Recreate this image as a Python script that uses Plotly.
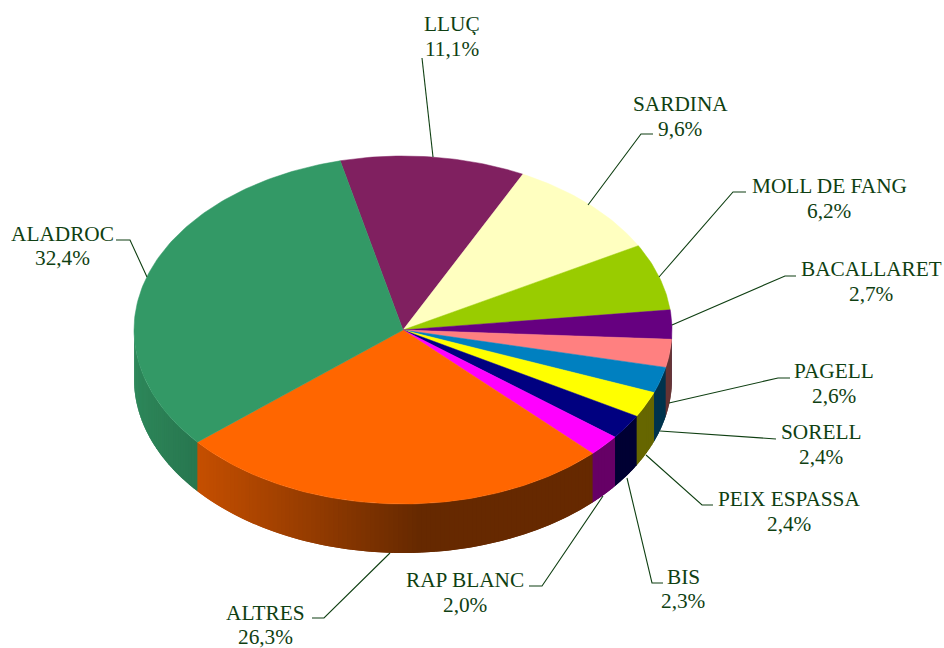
import math
import plotly.graph_objects as go

categories = ["LLUÇ", "SARDINA", "MOLL DE FANG", "BACALLARET", "PAGELL", "SORELL",
              "PEIX ESPASSA", "BIS", "RAP BLANC", "ALTRES", "ALADROC"]
values = [11.1, 9.6, 6.2, 2.7, 2.6, 2.4, 2.4, 2.3, 2.0, 26.3, 32.4]
value_labels = ["11,1%", "9,6%", "6,2%", "2,7%", "2,6%", "2,4%", "2,4%", "2,3%", "2,0%", "26,3%", "32,4%"]
colors = ["#802060", "#FFFFC0", "#99CC00", "#660080", "#FF8080", "#0080C0",
          "#FFFF00", "#000080", "#FF00FF", "#FF6600", "#339966"]

# projection of the tilted pie (layout, in page pixels)
CX, CY, RX, RY, DEPTH = 403, 330, 269, 174, 49
START = -13.5
TEXT = "#0F3F12"
FONT = "Liberation Serif"
FS = 21.3
LINE_GAP = 12.3

label_pos = [(452, 36), (680, 116), (829, 198), (871, 281), (834, 383), (821, 444),
             (789, 511), (683, 588.5), (465, 592), (265, 624.5), (62, 245.5)]
leaders = [
    [(433, 157), (422, 58)],
    [(588, 205), (641, 134), (653, 134)],
    [(659, 277), (733, 192), (746, 192)],
    [(672, 325), (785, 276), (796, 276)],
    [(669, 403), (778, 378), (790, 378)],
    [(660, 431), (776, 439)],
    [(646, 455), (702, 505), (713, 505)],
    [(627, 478), (652, 583), (663, 583)],
    [(603, 496), (542, 586), (529, 586)],
    [(390, 553), (324, 618), (312, 618)],
    [(147, 277), (130, 240), (116, 240)],
]


def pt(t):
    a = math.radians(t)
    return CX + RX * math.sin(a), CY - RY * math.cos(a)


def shade(hex_color, x):
    f = max(0.40, min(0.88, 0.88 - 0.48 * (x - CX + 269) / 286))
    r, g, b = (int(hex_color[i:i + 2], 16) for i in (1, 3, 5))
    return f"rgb({r * f:.0f},{g * f:.0f},{b * f:.0f})"


total = sum(values)
edges = [START]
for v in values:
    edges.append(edges[-1] + v / total * 360)

fig = go.Figure()
STEP = 1.0

# extruded wall: the front half of the rim; each strip runs under the next one so no seams show
for col, t0, t1 in zip(colors, edges[:-1], edges[1:]):
    a, b = max(t0, 90), min(t1, 270)
    if b <= a:
        continue
    n = max(1, math.ceil((b - a) / STEP))
    for i in range(n):
        s0 = a + (b - a) * i / n
        s1 = min(270, a + (b - a) * (i + 1) / n + STEP)
        ts = [s0 + (s1 - s0) * j / 4 for j in range(5)]
        top = [pt(t) for t in ts]
        xs = [p[0] for p in top] + [p[0] for p in reversed(top)] + [top[0][0]]
        ys = [p[1] for p in top] + [p[1] + DEPTH for p in reversed(top)] + [top[0][1]]
        c = shade(col, pt((s0 + s0 + STEP) / 2)[0])
        fig.add_trace(go.Scatter(x=xs, y=ys, mode="lines", fill="toself", fillcolor=c,
                                 line=dict(color=c, width=0), hoverinfo="skip", showlegend=False))

# top face
for name, col, t0, t1 in zip(categories, colors, edges[:-1], edges[1:]):
    n = max(4, math.ceil((t1 - t0) / 1.0))
    arc = [pt(t0 + (t1 - t0) * j / n) for j in range(n + 1)]
    xs = [CX] + [p[0] for p in arc] + [CX]
    ys = [CY] + [p[1] for p in arc] + [CY]
    fig.add_trace(go.Scatter(x=xs, y=ys, mode="lines", fill="toself", fillcolor=col,
                             line=dict(color=col, width=0.5), name=name, hoverinfo="name", showlegend=False))

# leader lines
for path in leaders:
    fig.add_trace(go.Scatter(x=[p[0] for p in path], y=[p[1] for p in path], mode="lines",
                             line=dict(color=TEXT, width=1.1), hoverinfo="skip", showlegend=False))

annotations = []
for n, v, (x, y) in zip(categories, value_labels, label_pos):
    for txt, dy in ((n, -LINE_GAP), (v, LINE_GAP)):
        annotations.append(dict(x=x, y=y + dy, xref="x", yref="y", text=txt, showarrow=False,
                                align="center", height=23, borderpad=0,
                                font=dict(family=FONT, size=FS, color=TEXT)))

fig.update_layout(
    width=944, height=648, margin=dict(l=0, r=0, t=0, b=0),
    paper_bgcolor="white", plot_bgcolor="white", showlegend=False,
    xaxis=dict(range=[0, 944], visible=False, fixedrange=True),
    yaxis=dict(range=[648, 0], visible=False, fixedrange=True),
    annotations=annotations,
)
fig.write_html("out.html", config={"displayModeBar": False},
               post_script="document.body.style.margin='0';document.documentElement.style.overflow='hidden';")
